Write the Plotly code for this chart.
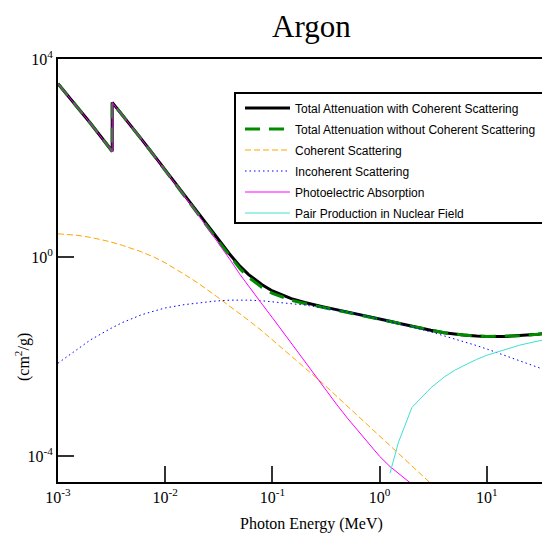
import plotly.graph_objects as go

# Photon energy grid (MeV)
energy = [1e-3, 1.5e-3, 2e-3, 3e-3, 3.2029e-3, 3.2029e-3, 4e-3, 5e-3, 6e-3, 8e-3,
          0.01, 0.015, 0.02, 0.03, 0.04, 0.05, 0.06, 0.08, 0.1, 0.15, 0.2, 0.3,
          0.4, 0.5, 0.6, 0.8, 1.0, 1.25, 1.5, 2.0, 3.0, 4.0, 5.0, 6.0, 8.0, 10.0,
          15.0, 20.0, 30.0, 40.0, 50.0]

total_with_coh = [3184, 1118, 512.5, 166.4, 137.9, 1336, 739.6, 403.1, 243.4, 109.1,
                  58.3, 18.4, 8.05, 2.55, 1.16, 0.662, 0.452, 0.282, 0.211, 0.148, 0.124, 0.1012,
                  0.0889, 0.0804, 0.0740, 0.0647, 0.0580, 0.0518, 0.0472, 0.0410, 0.0340, 0.0305,
                  0.0286, 0.0273, 0.0260, 0.0255, 0.0256, 0.0265, 0.0284, 0.0301, 0.0314]

total_without_coh = [3181, 1115.2, 510.0, 164.3, 135.9, 1334, 737.9, 401.6, 242.1, 108.1,
                     57.5, 17.94, 7.74, 2.385, 1.055, 0.589, 0.398, 0.249, 0.189, 0.1376, 0.118,
                     0.0984, 0.0873, 0.0794, 0.0733, 0.0643, 0.0578, 0.0516, 0.0471, 0.0409,
                     0.0340, 0.0305, 0.0286, 0.0273, 0.0260, 0.0255, 0.0256, 0.0265, 0.0284,
                     0.0301, 0.0314]

coh_energy = [1e-3, 1.5e-3, 2e-3, 3e-3, 4e-3, 5e-3, 6e-3, 8e-3, 0.01, 0.015, 0.02, 0.03,
              0.04, 0.05, 0.06, 0.08, 0.1, 0.15, 0.2, 0.3, 0.4, 0.5, 0.6, 0.8, 1.0, 1.25,
              1.5, 2.0, 3.0]
coherent = [3.0, 2.8, 2.55, 2.1, 1.75, 1.50, 1.30, 1.00, 0.78, 0.46, 0.31, 0.165,
            0.105, 0.073, 0.054, 0.033, 0.022, 0.0104, 0.0060, 0.0028, 0.00158, 0.00101,
            7.0e-4, 3.95e-4, 2.53e-4, 1.62e-4, 1.13e-4, 6.3e-5, 2.8e-5]

inc_energy = [1e-3, 1.5e-3, 2e-3, 3e-3, 4e-3, 5e-3, 6e-3, 8e-3, 0.01, 0.015, 0.02, 0.03,
              0.04, 0.05, 0.06, 0.08, 0.1, 0.15, 0.2, 0.3, 0.4, 0.5, 0.6, 0.8, 1.0, 1.25,
              1.5, 2.0, 3.0, 4.0, 5.0, 6.0, 8.0, 10.0, 15.0, 20.0, 30.0, 40.0, 50.0]
incoherent = [0.0074, 0.0141, 0.0217, 0.0357, 0.049, 0.0596, 0.070, 0.084, 0.096, 0.112,
              0.122, 0.133, 0.138, 0.139, 0.138, 0.134, 0.128, 0.119, 0.110, 0.0960, 0.0862,
              0.0788, 0.0729, 0.0641, 0.0576, 0.0515, 0.0469, 0.0400, 0.0316, 0.0265, 0.0231,
              0.0205, 0.0168, 0.0143, 0.0105, 0.0084, 0.0061, 0.0049, 0.0041]

pe_energy = [1e-3, 1.5e-3, 2e-3, 3e-3, 3.2029e-3, 3.2029e-3, 4e-3, 5e-3, 6e-3, 8e-3,
             0.01, 0.015, 0.02, 0.03, 0.04, 0.05, 0.06, 0.08, 0.1, 0.15, 0.2, 0.3,
             0.4, 0.5, 0.6, 0.8, 1.0, 1.25, 1.5, 2.0]
photoelectric = [3181, 1115, 510, 164.3, 135.9, 1334, 737.8, 401.6, 242.1, 108.0,
                 57.4, 17.8, 7.6, 2.25, 0.92, 0.45, 0.26, 0.115, 0.061, 0.0185, 0.0078, 0.0024,
                 0.00107, 5.8e-4, 3.6e-4, 1.7e-4, 9.8e-5, 6.1e-5, 4.4e-5, 2.7e-5]

pair_energy = [1.25, 1.5, 2.0, 3.0, 4.0, 5.0, 6.0, 8.0, 10.0, 15.0, 20.0, 30.0, 40.0, 50.0]
pair_nuclear = [4.5e-5, 1.9e-4, 9.5e-4, 2.35e-3, 3.9e-3, 5.3e-3, 6.5e-3, 8.8e-3, 1.07e-2,
                1.43e-2, 1.70e-2, 2.07e-2, 2.32e-2, 2.50e-2]

x_tickvals = [1e-3, 1e-2, 1e-1, 1e0, 1e1]
x_ticktext = ["10<sup>-3</sup>", "10<sup>-2</sup>", "10<sup>-1</sup>", "10<sup>0</sup>", "10<sup>1</sup>"]
y_tickvals = [1e-4, 1e0, 1e4]
y_ticktext = ["10<sup>-4</sup>", "10<sup>0</sup>", "10<sup>4</sup>"]

fig = go.Figure()

fig.add_trace(go.Scatter(x=energy, y=total_with_coh, mode="lines",
                         name="Total Attenuation with Coherent Scattering",
                         line=dict(color="black", width=3), legendgroup="a"))
fig.add_trace(go.Scatter(x=energy, y=total_without_coh, mode="lines",
                         name="Total Attenuation without Coherent Scattering",
                         line=dict(color="rgb(0,139,0)", width=3, dash="15px,9px"), legendgroup="b"))
fig.add_trace(go.Scatter(x=coh_energy, y=coherent, mode="lines",
                         name="Coherent Scattering",
                         line=dict(color="rgb(255,165,0)", width=1, dash="6px,3px"), legendgroup="c"))
fig.add_trace(go.Scatter(x=inc_energy, y=incoherent, mode="lines",
                         name="Incoherent Scattering",
                         line=dict(color="rgb(0,0,255)", width=1, dash="1.5px,3px"), legendgroup="d"))
fig.add_trace(go.Scatter(x=pe_energy, y=photoelectric, mode="lines",
                         name="Photoelectric Absorption",
                         line=dict(color="rgb(255,0,255)", width=1), legendgroup="e"))
fig.add_trace(go.Scatter(x=pair_energy, y=pair_nuclear, mode="lines",
                         name="Pair Production in Nuclear Field",
                         line=dict(color="rgb(64,224,208)", width=1), legendgroup="f"))

# page is offset by the body margin (8px), so the figure is drawn 8px smaller
OFF = 8
PAGE_W, PAGE_H = 550, 533
LEFT, TOP, BOTTOM, RIGHT = 58, 59, 482, 550   # plot-area edges in page pixels
W, H = PAGE_W - OFF, PAGE_H - OFF
L, T = LEFT - OFF, TOP - OFF
R, B = PAGE_W - RIGHT, PAGE_H - BOTTOM
pw, ph = RIGHT - LEFT, BOTTOM - TOP

def px(xp):
    return (xp - LEFT) / pw

def py(yp):
    return (BOTTOM - yp) / ph

serif = "Liberation Serif, Times New Roman, serif"

fig.update_layout(
    width=W, height=H,
    margin=dict(l=L, r=R, t=T, b=B, pad=0),
    paper_bgcolor="white", plot_bgcolor="white",
    showlegend=True,
    legend=dict(x=px(240), y=py(93.5), xanchor="left", yanchor="top",
                bgcolor="rgba(0,0,0,0)", borderwidth=0,
                font=dict(family="Liberation Sans, Arial, sans-serif", size=12, color="black"),
                itemwidth=45, tracegroupgap=2, traceorder="grouped"),
    shapes=[dict(type="rect", xref="paper", yref="paper",
                 x0=px(235), x1=px(546), y0=py(223), y1=py(93),
                 line=dict(color="black", width=2), fillcolor="white", layer="above")],
    annotations=[
        dict(text="Argon", xref="paper", yref="paper", x=px(311), y=py(26),
             xanchor="center", yanchor="middle", showarrow=False,
             font=dict(family=serif, size=31, color="black")),
        dict(text="Photon Energy (MeV)", xref="paper", yref="paper", x=px(311), y=py(524),
             xanchor="center", yanchor="middle", showarrow=False,
             font=dict(family=serif, size=16, color="black")),
        dict(text="(cm<sup>2</sup>/g)", xref="paper", yref="paper", x=px(22), y=py(357),
             xanchor="center", yanchor="middle", showarrow=False, textangle=-90,
             font=dict(family=serif, size=16, color="black")),
    ],
    xaxis=dict(type="log", range=[-3, 1.589], showgrid=False, zeroline=False,
               showline=True, linecolor="black", linewidth=2, mirror=True,
               ticks="inside", ticklen=16, tickwidth=1.5, tickcolor="#333",
               tickvals=x_tickvals, ticktext=x_ticktext,
               tickfont=dict(family=serif, size=16, color="black")),
    yaxis=dict(type="log", range=[-4.525, 4.0], showgrid=False, zeroline=False,
               showline=True, linecolor="black", linewidth=2, mirror=False,
               ticks="inside", ticklen=16, tickwidth=1.5, tickcolor="#333",
               tickvals=y_tickvals, ticktext=y_ticktext,
               tickfont=dict(family=serif, size=16, color="black")),
)

fig.write_html("out.html")
